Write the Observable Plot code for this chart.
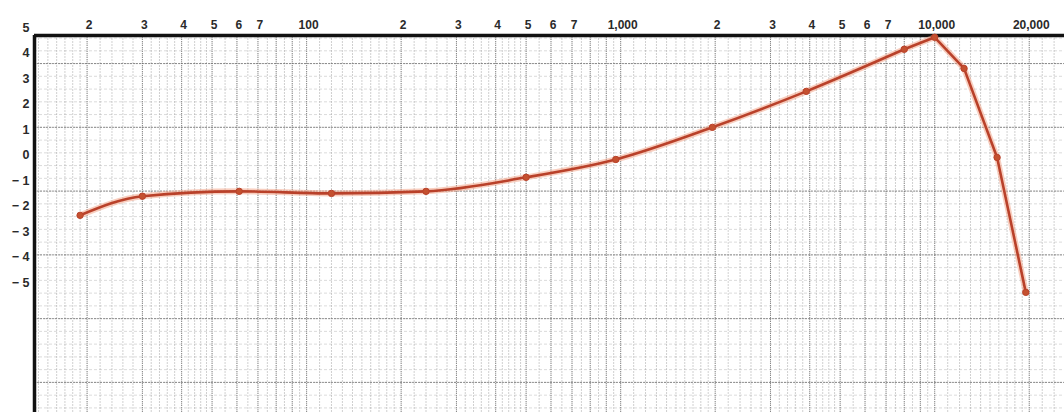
<!DOCTYPE html>
<html>
<head>
<meta charset="utf-8">
<script src="https://cdn.jsdelivr.net/npm/d3@7"></script>
<script src="https://cdn.jsdelivr.net/npm/@observablehq/plot@0.6"></script>
<style>
  html, body { margin: 0; padding: 0; background: #fff; }
  #chart svg { display: block; }
</style>
</head>
<body>
<div id="chart"></div>
<script>
// Measured response (frequency in Hz, level in dB)
const freqs  = [19, 30, 61, 120, 240, 500, 965, 1960, 3900, 8000, 10000, 12400, 15800, 19500];
const levels = [-2.35, -1.6, -1.41, -1.49, -1.41, -0.86, -0.16, 1.1, 2.51, 4.16, 4.63, 3.41, -0.08, -5.37];

// Axis ticks and their printed labels
const xTicks = [20, 30, 40, 50, 60, 70, 100, 200, 300, 400, 500, 600, 700, 1000, 2000, 3000, 4000, 5000, 6000, 7000, 10000, 20000];
const xTickLabels = ["2", "3", "4", "5", "6", "7", "100", "2", "3", "4", "5", "6", "7", "1,000", "2", "3", "4", "5", "6", "7", "10,000", "20,000"];
const yTicks = [5, 4, 3, 2, 1, 0, -1, -2, -3, -4, -5];
const yTickLabels = ["5", "4", "3", "2", "1", "0", "− 1", "− 2", "− 3", "− 4", "− 5"];

// Visible extent of the (cropped) chart paper
const xDomain = [13.6, 25900];
const yDomain = [-10.08, 4.7];

// Background chart-paper grid lines (log paper)
const gridMajorX = [];
const gridMinorX = [];
for (const dec of [10, 100, 1000, 10000]) {
  for (let m = 1; m < 10; m++) gridMajorX.push(m * dec);
  for (let m = 1; m < 2; m += 0.1) gridMinorX.push(+(m * dec).toFixed(4));
  for (let m = 2; m < 5; m += 0.2) gridMinorX.push(+(m * dec).toFixed(4));
  for (let m = 5; m < 10; m += 0.5) gridMinorX.push(+(m * dec).toFixed(4));
}
const inX = v => v >= xDomain[0] && v <= xDomain[1];
const inY = v => v > yDomain[0] && v < yDomain[1];
const gridMajorY = [];
const gridMinorY = [];
for (let k = 0; k <= 6; k++) gridMajorY.push(3.6 - 2.5 * k);
for (let k = -2; k <= 30; k++) gridMinorY.push(3.6 - 0.5 * k);

const data = freqs.map((f, i) => ({f, v: levels[i]}));
const smoothPart = data.slice(0, 10);
const peakPart = data.slice(9);

const chart = Plot.plot({
  width: 1064,
  height: 412,
  marginLeft: 34,
  marginRight: 0,
  marginTop: 35,
  marginBottom: 0,
  x: {type: "log", domain: xDomain, axis: null},
  y: {domain: yDomain, axis: null},
  style: {background: "#fff", fontFamily: "'Liberation Sans', Arial, sans-serif"},
  marks: [
    // paper grid
    Plot.ruleX(gridMinorX.filter(inX), {stroke: "#8a8a8a", strokeOpacity: 0.4, strokeWidth: 1, strokeDasharray: "2,1"}),
    Plot.ruleX(gridMajorX.filter(inX), {stroke: "#555", strokeOpacity: 0.6, strokeWidth: 1, strokeDasharray: "1,1"}),
    Plot.ruleY(gridMinorY.filter(inY), {stroke: "#999", strokeOpacity: 0.35, strokeDasharray: "3,2"}),
    Plot.ruleY(gridMajorY.filter(inY), {stroke: "#666", strokeOpacity: 0.7, strokeDasharray: "2,1"}),
    // frame edges
    Plot.ruleY([yDomain[1]], {stroke: "#111", strokeWidth: 3.5}),
    Plot.ruleX([xDomain[0]], {stroke: "#111", strokeWidth: 3.5}),
    // response curve
    Plot.line(smoothPart, {x: "f", y: "v", curve: "monotone-x", stroke: "#f2a58a", strokeWidth: 6, strokeOpacity: 0.55}),
    Plot.line(peakPart, {x: "f", y: "v", stroke: "#f2a58a", strokeWidth: 6, strokeOpacity: 0.55}),
    Plot.line(smoothPart, {x: "f", y: "v", curve: "monotone-x", stroke: "#b9412a", strokeWidth: 2.6}),
    Plot.line(peakPart, {x: "f", y: "v", stroke: "#b9412a", strokeWidth: 2.6}),
    Plot.dot(data, {x: "f", y: "v", r: 3.2, fill: "#c4502f", stroke: "#b9412a", strokeWidth: 1}),
    // labels
    Plot.text(xTicks, {x: d => d, text: (d, i) => xTickLabels[i], frameAnchor: "top", dy: -15, dx: 2, fontSize: 12, fontWeight: "bold", fill: "#2a2a2a"}),
    Plot.text(yTicks, {y: d => d, text: (d, i) => yTickLabels[i], frameAnchor: "left", textAnchor: "end", dx: -5, fontSize: 12.5, fontWeight: "bold", fill: "#2a2a2a"})
  ]
});
document.getElementById("chart").appendChild(chart);
</script>
</body>
</html>
